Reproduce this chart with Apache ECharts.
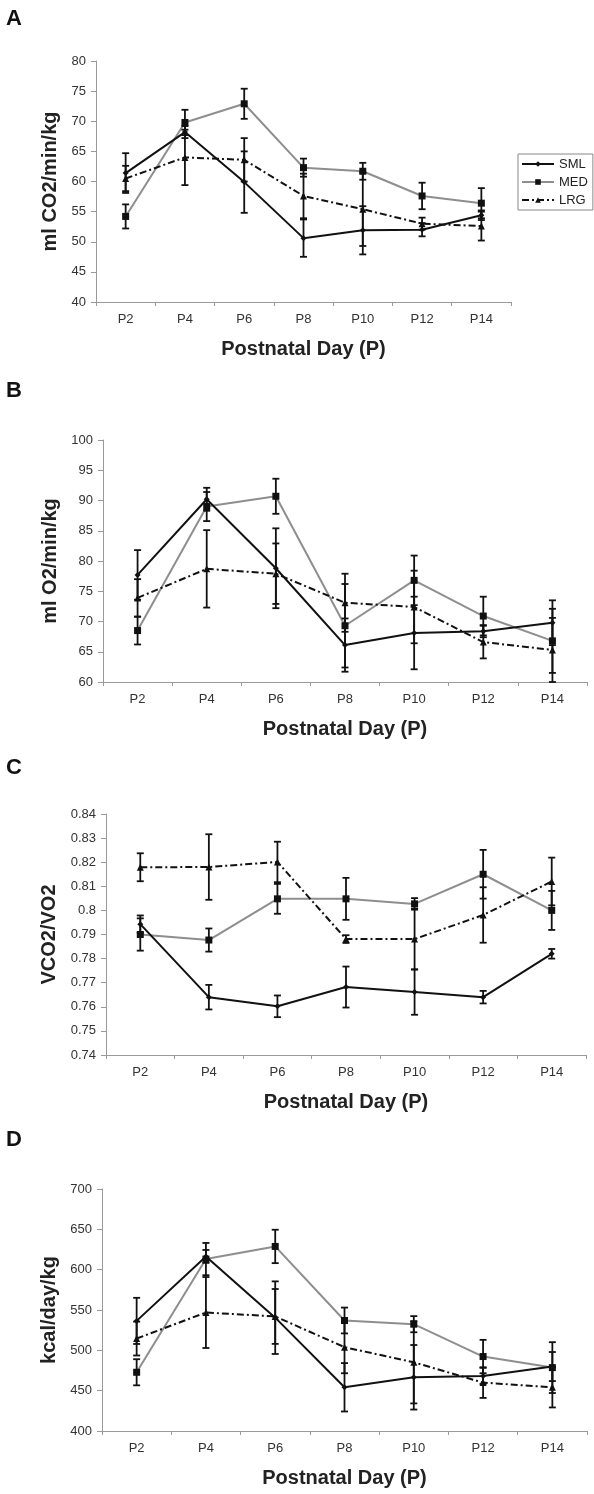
<!DOCTYPE html>
<html>
<head>
<meta charset="utf-8">
<script src="https://cdn.jsdelivr.net/npm/echarts@6/dist/echarts.min.js"></script>
<style>
html,body{margin:0;padding:0;background:#fff;}
#chart{width:594px;height:1494px;}
</style>
</head>
<body>
<div id="chart"></div>
<script>
// ---- data ----
const categories = ['P2', 'P4', 'P6', 'P8', 'P10', 'P12', 'P14'];
const groups = ['SML', 'MED', 'LRG'];

// Panel A: ml CO2/min/kg
const aSML    = [61.4, 68.2, 59.9, 50.6, 51.9, 52.0, 54.4];
const aSMLerr = [3.3, 1.0, 5.1, 3.1, 4.0, 1.1, 0.8];
const aMED    = [54.2, 69.8, 72.9, 62.3, 61.7, 57.6, 56.4];
const aMEDerr = [2.0, 2.1, 2.5, 1.5, 1.4, 2.2, 2.5];
const aLRG    = [60.5, 64.0, 63.6, 57.6, 55.4, 53.0, 52.6];
const aLRGerr = [2.1, 4.6, 3.6, 3.7, 6.1, 1.0, 2.4];

// Panel B: ml O2/min/kg
const bSML    = [77.7, 90.2, 78.8, 66.1, 68.1, 68.4, 69.8];
const bSMLerr = [4.1, 1.9, 6.6, 4.4, 6.0, 1.0, 3.7];
const bMED    = [68.5, 89.0, 90.7, 69.3, 76.8, 70.9, 66.8];
const bMEDerr = [2.3, 2.4, 2.9, 6.9, 4.1, 3.2, 5.3];
const bLRG    = [73.9, 78.7, 77.9, 73.1, 72.4, 66.6, 65.3];
const bLRGerr = [3.1, 6.4, 5.0, 4.8, 6.0, 2.7, 5.3];

// Panel C: VCO2/VO2
const cSML    = [0.7943, 0.7640, 0.7602, 0.7682, 0.7661, 0.7640, 0.7820];
const cSMLerr = [0.0036, 0.0051, 0.0045, 0.0085, 0.0094, 0.0026, 0.0020];
const cMED    = [0.7900, 0.7877, 0.8048, 0.8048, 0.8027, 0.8150, 0.8000];
const cMEDerr = [0.0067, 0.0048, 0.0062, 0.0087, 0.0024, 0.0101, 0.0081];
const cLRG    = [0.8179, 0.8180, 0.8201, 0.7881, 0.7881, 0.7981, 0.8120];
const cLRGerr = [0.0058, 0.0136, 0.0084, 0.0016, 0.0126, 0.0115, 0.0099];
const starCats   = ['P2', 'P4', 'P6', 'P8', 'P12', 'P14'];
const starLevels = [0.8284, 0.8378, 0.8351, 0.8202, 0.8313, 0.8272];

// Panel D: kcal/day/kg
const dSML    = [536.5, 616.4, 540.5, 454.2, 466.6, 468.3, 479.9];
const dSMLerr = [28.6, 8, 45, 30, 40, 10, 18];
const dMED    = [472.8, 613.1, 628.8, 537.0, 532.4, 492.3, 478.6];
const dMEDerr = [16.2, 20, 20.7, 16, 10, 20.7, 31.5];
const dLRG    = [514.6, 546.9, 542.0, 503.9, 485.2, 460.0, 454.2];
const dLRGerr = [21, 44, 34, 32.3, 51, 19, 25];

const yTitles = ['ml CO2/min/kg', 'ml O2/min/kg', 'VCO2/VO2', 'kcal/day/kg'];
const xTitle = 'Postnatal Day (P)';
const panelLetters = ['A', 'B', 'C', 'D'];
const yMin = [40, 60, 0.74, 400];
const yMax = [80, 100, 0.84, 700];
const yStep = [5, 5, 0.01, 50];

// ---- styling / layout ----
const FONT = '"Liberation Sans", Arial, Helvetica, sans-serif';
const grids = [
  { left: 96,  top: 61,   width: 415, height: 241 },
  { left: 103, top: 440,  width: 484, height: 242 },
  { left: 106, top: 814,  width: 480, height: 241 },
  { left: 102, top: 1189, width: 485, height: 242 }
];
const yNameGap = [31, 37, 42, 38];
const letterTops = [8, 380, 757, 1129];

const panels = [
  { SML: [aSML, aSMLerr], MED: [aMED, aMEDerr], LRG: [aLRG, aLRGerr] },
  { SML: [bSML, bSMLerr], MED: [bMED, bMEDerr], LRG: [bLRG, bLRGerr] },
  { SML: [cSML, cSMLerr], MED: [cMED, cMEDerr], LRG: [cLRG, cLRGerr] },
  { SML: [dSML, dSMLerr], MED: [dMED, dMEDerr], LRG: [dLRG, dLRGerr] }
];

const lineStyles = {
  SML: { color: '#111', width: 2, type: 'solid', symbol: 'diamond', symbolSize: 6 },
  MED: { color: '#8e8e8e', width: 2, type: 'solid', symbol: 'rect', symbolSize: 7 },
  LRG: { color: '#111', width: 2, type: [7, 3, 2, 3], symbol: 'triangle', symbolSize: 7 }
};

function renderErr(params, api) {
  const x = api.value(0), y = api.value(1), e = api.value(2);
  const hi = api.coord([x, y + e]);
  const lo = api.coord([x, y - e]);
  const half = 3.5;
  const st = { stroke: '#111', lineWidth: 1.8 };
  return {
    type: 'group',
    children: [
      { type: 'line', shape: { x1: hi[0], y1: hi[1], x2: lo[0], y2: lo[1] }, style: st },
      { type: 'line', shape: { x1: hi[0] - half, y1: hi[1], x2: hi[0] + half, y2: hi[1] }, style: st },
      { type: 'line', shape: { x1: lo[0] - half, y1: lo[1], x2: lo[0] + half, y2: lo[1] }, style: st }
    ]
  };
}

const xAxes = [], yAxes = [], series = [], graphics = [];
grids.forEach((g, i) => {
  xAxes.push({
    type: 'category', gridIndex: i, data: categories, boundaryGap: true,
    axisLine: { lineStyle: { color: '#9a9a9a', width: 1 } },
    axisTick: { show: true, inside: false, length: 4, lineStyle: { color: '#9a9a9a' } },
    axisLabel: { color: '#333', fontSize: 13, fontFamily: FONT, margin: 11 },
    name: xTitle, nameLocation: 'middle', nameGap: 37,
    nameTextStyle: { color: '#222', fontSize: 20, fontWeight: 'bold', fontFamily: FONT },
    splitLine: { show: false }
  });
  yAxes.push({
    type: 'value', gridIndex: i, min: yMin[i], max: yMax[i], interval: yStep[i],
    axisLine: { show: true, lineStyle: { color: '#9a9a9a', width: 1 } },
    axisTick: { show: true, inside: false, length: 5, lineStyle: { color: '#9a9a9a' } },
    axisLabel: { color: '#333', fontSize: 13, fontFamily: FONT, margin: 10 },
    splitLine: { show: false },
    name: yTitles[i], nameLocation: 'middle', nameGap: yNameGap[i],
    nameTextStyle: { color: '#222', fontSize: 20, fontWeight: 'bold', fontFamily: FONT }
  });
  graphics.push({
    type: 'text', left: 6, top: letterTops[i],
    style: { text: panelLetters[i], font: 'bold 22px ' + FONT, fill: '#111' }
  });
});

// line series first (so legend takes icons from panel A)
grids.forEach((g, i) => {
  groups.forEach(name => {
    const s = lineStyles[name];
    series.push({
      type: 'line', name: name, xAxisIndex: i, yAxisIndex: i,
      data: panels[i][name][0],
      symbol: s.symbol, symbolSize: s.symbolSize, showSymbol: true,
      lineStyle: { color: s.color, width: s.width, type: s.type },
      itemStyle: { color: '#111', borderWidth: 0 },
      z: name === 'MED' ? 2 : 3,
      animation: false, silent: true
    });
  });
});
grids.forEach((g, i) => {
  groups.forEach(name => {
    const vals = panels[i][name][0], errs = panels[i][name][1];
    series.push({
      type: 'custom', name: name + ' error', xAxisIndex: i, yAxisIndex: i,
      renderItem: renderErr,
      data: vals.map((v, k) => [k, v, errs[k]]),
      z: 4, animation: false, silent: true
    });
  });
});
series.push({
  type: 'scatter', name: 'significance', xAxisIndex: 2, yAxisIndex: 2,
  data: starCats.map((c, k) => [c, starLevels[k]]),
  symbolSize: 1, itemStyle: { opacity: 0 },
  label: { show: true, position: 'inside', formatter: '*', fontSize: 18, color: '#222',
           fontFamily: FONT, offset: [0, 5] },
  animation: false, silent: true
});

const chart = echarts.init(document.getElementById('chart'), null, { renderer: 'canvas' });
chart.setOption({
  backgroundColor: '#fff',
  animation: false,
  grid: grids,
  xAxis: xAxes,
  yAxis: yAxes,
  legend: {
    data: groups, orient: 'vertical', left: 518, top: 154,
    itemWidth: 32, itemHeight: 7, itemGap: 4,
    padding: [3, 5, 3, 3],
    borderColor: '#888', borderWidth: 1,
    textStyle: { color: '#222', fontSize: 13, fontFamily: FONT, lineHeight: 14 },
    selectedMode: false
  },
  graphic: graphics,
  series: series
});
</script>
</body>
</html>
